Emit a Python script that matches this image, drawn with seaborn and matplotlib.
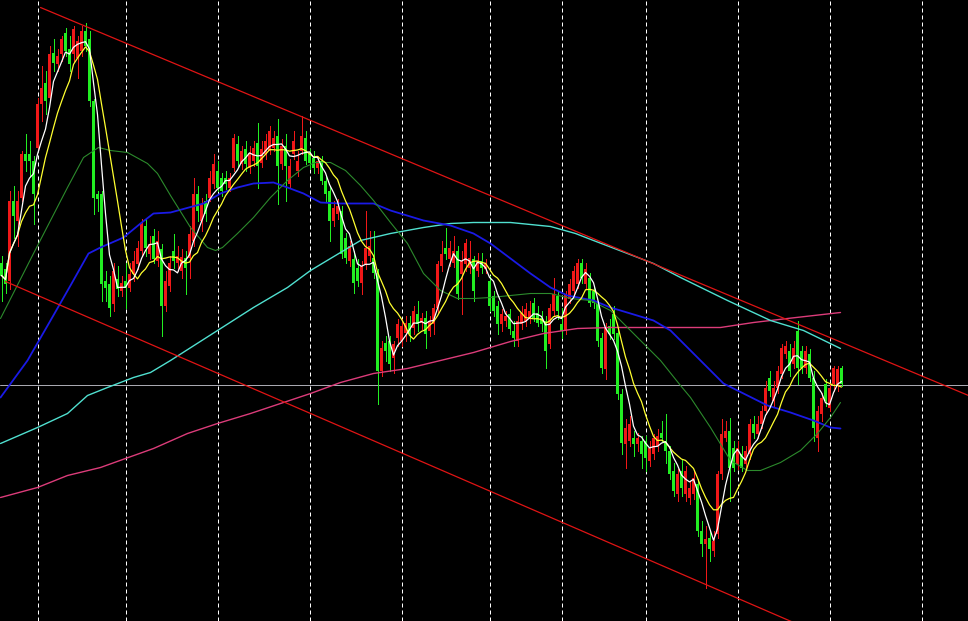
import numpy as np
import pandas as pd
import matplotlib
matplotlib.use("Agg")
import matplotlib.pyplot as plt
import seaborn as sns

# ---------------- data (prices in arbitrary chart units) ----------------
opens = [359, 353, 341, 421, 401, 424, 468, 468, 461, 474, 518, 539, 524, 569, 558, 568, 589, 573, 568, 564,
         571, 591, 583, 521, 428, 428, 341, 338, 318, 343, 331, 341, 334, 348, 358, 371, 396, 368, 386, 361,
         373, 316, 336, 371, 359, 351, 364, 364, 381, 428, 401, 421, 424, 438, 451, 444, 444, 434, 454, 478,
         458, 473, 454, 461, 479, 459, 468, 471, 474, 486, 458, 476, 438, 468, 451, 471, 484, 468, 464, 454,
         461, 441, 431, 401, 408, 411, 384, 361, 363, 354, 339, 358, 366, 364, 349, 251, 279, 281, 264, 284,
         281, 289, 299, 294, 308, 299, 304, 291, 298, 314, 356, 374, 363, 359, 371, 348, 358, 354, 363, 351,
         361, 353, 341, 326, 316, 298, 301, 308, 291, 281, 298, 301, 303, 319, 309, 304, 301, 278, 311, 326,
         298, 291, 323, 331, 338, 359, 338, 344, 331, 318, 284, 253, 296, 308, 289, 228, 178, 181, 184, 178,
         181, 181, 161, 168, 176, 189, 181, 171, 151, 128, 151, 128, 124, 128, 138, 91, 78, 84, 71, 88,
         148, 184, 191, 174, 158, 168, 158, 168, 198, 188, 198, 211, 244, 221, 234, 248, 268, 271, 258, 291,
         271, 254, 268, 244, 184, 208, 238, 214, 238, 236, 254]
closes = [346, 338, 421, 406, 421, 468, 461, 461, 428, 518, 534, 521, 568, 559, 566, 583, 571, 558, 593, 581,
          591, 576, 521, 424, 423, 338, 334, 314, 351, 333, 339, 334, 348, 361, 374, 398, 374, 378, 363, 381,
          316, 341, 359, 361, 366, 365, 354, 388, 428, 411, 418, 408, 444, 458, 434, 431, 438, 444, 484, 461,
          471, 458, 469, 474, 456, 473, 481, 491, 484, 456, 476, 456, 456, 481, 461, 486, 461, 459, 454, 461,
          441, 428, 401, 414, 416, 368, 364, 376, 339, 341, 356, 374, 376, 349, 251, 274, 271, 258, 278, 298,
          296, 299, 288, 311, 298, 304, 288, 301, 314, 358, 368, 368, 374, 371, 328, 361, 379, 364, 331, 361,
          354, 359, 316, 311, 298, 308, 306, 293, 284, 301, 309, 313, 311, 304, 299, 298, 271, 314, 328, 311,
          291, 328, 338, 351, 359, 344, 353, 319, 319, 281, 254, 294, 288, 288, 228, 179, 194, 198, 178, 184,
          168, 164, 174, 184, 186, 184, 171, 148, 131, 148, 134, 151, 134, 144, 91, 78, 83, 73, 81, 148,
          188, 191, 154, 154, 174, 154, 171, 198, 189, 198, 211, 234, 231, 234, 251, 274, 276, 251, 274, 254,
          254, 271, 244, 194, 211, 224, 221, 234, 254, 253, 238]
highs = [366, 359, 431, 436, 431, 471, 488, 481, 466, 524, 556, 551, 576, 583, 573, 586, 594, 586, 596, 586,
         596, 599, 591, 523, 431, 431, 351, 346, 359, 356, 346, 359, 359, 371, 381, 403, 403, 386, 393, 391,
         378, 351, 366, 388, 376, 373, 371, 396, 444, 436, 424, 428, 451, 468, 461, 449, 451, 449, 488, 486,
         476, 481, 476, 481, 499, 481, 488, 496, 491, 503, 483, 488, 463, 491, 471, 506, 491, 473, 471, 466,
         466, 446, 436, 421, 423, 416, 389, 381, 371, 363, 361, 411, 391, 391, 353, 281, 286, 286, 281, 303,
         303, 306, 306, 316, 321, 309, 311, 306, 318, 361, 381, 394, 381, 386, 376, 371, 383, 381, 366, 369,
         369, 363, 346, 331, 321, 313, 311, 313, 301, 306, 316, 319, 321, 324, 316, 311, 306, 318, 344, 331,
         314, 331, 343, 356, 363, 363, 359, 349, 336, 321, 289, 299, 303, 316, 294, 233, 203, 206, 191, 189,
         186, 186, 181, 188, 193, 201, 208, 176, 159, 153, 163, 156, 141, 151, 143, 101, 96, 91, 91, 151,
         203, 201, 204, 181, 181, 176, 176, 203, 206, 206, 216, 241, 251, 241, 256, 278, 281, 278, 281, 301,
         276, 276, 273, 251, 216, 229, 243, 238, 256, 256, 256]
lows = [321, 329, 333, 384, 376, 421, 451, 446, 398, 471, 501, 508, 521, 551, 551, 561, 566, 551, 561, 544,
        566, 571, 516, 408, 411, 321, 321, 306, 311, 326, 326, 314, 331, 341, 353, 366, 366, 363, 359, 356,
        286, 311, 331, 354, 351, 344, 328, 344, 376, 401, 391, 401, 421, 434, 431, 426, 433, 431, 451, 456,
        453, 451, 449, 456, 434, 455, 463, 468, 471, 418, 453, 421, 434, 463, 446, 468, 458, 453, 449, 449,
        438, 421, 381, 396, 403, 364, 359, 356, 329, 336, 328, 353, 361, 344, 218, 246, 261, 251, 249, 276,
        276, 281, 281, 288, 291, 293, 274, 286, 288, 309, 351, 363, 356, 355, 323, 308, 351, 349, 321, 346,
        349, 349, 311, 306, 288, 291, 296, 288, 276, 276, 293, 296, 299, 301, 296, 291, 254, 274, 306, 303,
        284, 288, 319, 328, 334, 339, 333, 316, 314, 276, 249, 243, 283, 283, 223, 168, 154, 176, 166, 171,
        154, 151, 156, 163, 171, 181, 159, 143, 126, 121, 126, 121, 118, 123, 86, 66, 34, 61, 66, 84,
        143, 181, 121, 151, 153, 151, 154, 163, 184, 184, 194, 208, 226, 216, 229, 244, 264, 246, 254, 238,
        249, 249, 241, 181, 171, 201, 216, 211, 231, 231, 236]

# moving averages (bar position, value)
ma_green_t = [-0.25, 8, 16.5, 20.5, 24.25, 27.25, 31.5, 36.5, 39, 42.25, 47.25, 51.5, 53.5, 55.25, 59, 63,
              67.25, 71.5, 75.5, 78.5, 82.25, 86, 89.75, 93, 97.25, 101.5, 105.5, 109.75, 114, 118, 122.25,
              127.25, 132.25, 137.25, 142.25, 147.25, 152.25, 156.5, 160.5, 164.75, 169.75, 172.25, 177.25,
              182.25, 186.5, 189.75, 194.75, 199.75, 204, 207.25, 209.75]
ma_green_v = [303, 368, 434, 464, 474, 471, 469, 458, 448, 426, 394, 374, 371, 374, 388, 404,
              424, 441, 454, 459, 459, 451, 436, 421, 399, 378, 348, 331, 323, 323, 324,
              326, 328, 328, 323, 321, 311, 294, 278, 261, 236, 224, 194,
              161, 151, 151, 159, 171, 188, 204, 219]
ma_blue_t = [-0.25, 6.5, 12.25, 17.25, 21.75, 24.75, 30.5, 34.75, 38, 42.25, 50.5, 54.75, 59, 63, 68, 71.5,
             75.5, 79.75, 84.75, 93, 97.25, 105.5, 112.25, 118, 122.25, 127.25, 132.25, 137.25, 141.5, 148,
             152.25, 157.25, 163, 167.25, 172.25, 177.25, 180.5, 185.5, 191.5, 197.25, 203, 207.25, 209.75]
ma_blue_v = [224, 261, 301, 336, 368, 374, 384, 398, 408, 409, 418, 428, 434, 438, 439, 434,
             428, 419, 418, 418, 411, 401, 396, 388, 378, 363, 348, 334, 326, 321,
             314, 308, 301, 291, 271, 251, 238, 228, 216, 209, 201, 194, 193]
ma_cyan_t = [-0.25, 9, 16.5, 21.5, 26.5, 33, 37.25, 42.25, 54, 63, 71.5, 77.25, 84.75, 89.75, 97.25, 105.5,
             112.25, 118, 127.25, 137.25, 143.5, 148, 156.5, 163, 169.75, 181.5, 192.25, 200.5, 209.75]
ma_cyan_v = [178, 194, 208, 226, 234, 244, 249, 261, 291, 314, 334, 351, 369, 381, 388, 394,
             398, 399, 399, 395, 388, 381, 368, 358, 344, 321, 301, 291, 273]
ma_pink_t = [-0.25, 9, 16.5, 24.75, 31, 38, 46.5, 54, 62.25, 70.5, 77.25, 84.75, 93, 101.5, 109.75, 118,
             127.25, 135.5, 144, 152.25, 169.75, 179.75, 188, 196.5, 209.75]
ma_pink_v = [124, 134, 146, 154, 163, 173, 188, 198, 208, 219, 228, 239, 248, 253, 261, 269,
             280, 288, 293, 294, 294, 294, 299, 303, 309]
fast_period = 5
slow_period = 10

# trend channel anchors (bar position, price)
upper_channel_t = [9.75, 241.75]
upper_channel_v = [614, 226]
lower_channel_t = [1, 199.75]
lower_channel_v = [340, -4]
bid_price = 237
grid_positions = [9, 31, 54, 77, 100, 122, 140, 161, 184, 207, 230]

# ---------------- drawing ----------------
sns.set_theme(style="dark", rc={"axes.facecolor": "black", "figure.facecolor": "black",
                                "axes.grid": False})

W, H = 968, 621
fig = plt.figure(figsize=(W / 100, H / 100), dpi=100)
ax = fig.add_axes([0, 0, 1, 1])
ax.set_facecolor("black")

df = pd.DataFrame({"open": opens, "high": highs, "low": lows, "close": closes})
df["t"] = np.arange(len(df))
up = df["close"] >= df["open"]
UP_COL = "#f01818"
DN_COL = "#22ee22"
cols = np.where(up, UP_COL, DN_COL)

px = 0.72  # one pixel in points

# vertical dashed grid
for g in grid_positions:
    ax.axvline(g, color="white", lw=px, dashes=(4, 3), zorder=1)

# bid line
ax.axhline(bid_price, color="#a8a8b0", lw=px, zorder=2)

# candles
ax.vlines(df["t"], df["low"], df["high"], colors=cols, lw=px, antialiased=False, zorder=3)
body_lo = np.minimum(df["open"], df["close"])
body_h = np.maximum(np.abs(df["close"] - df["open"]), 1)
ax.bar(df["t"], body_h, bottom=body_lo, width=0.8, color=cols, linewidth=0,
       antialiased=True, zorder=4)

# moving averages
df["ma_fast"] = df["close"].rolling(fast_period, min_periods=1).mean()
df["ma_slow"] = df["close"].rolling(slow_period, min_periods=1).mean()

sns.lineplot(x=ma_pink_t, y=ma_pink_v, ax=ax, color="#dc3c7a", lw=1.0, estimator=None, sort=False, zorder=5)
sns.lineplot(x=ma_cyan_t, y=ma_cyan_v, ax=ax, color="#50e0d0", lw=1.0, estimator=None, sort=False, zorder=5)
sns.lineplot(x=ma_blue_t, y=ma_blue_v, ax=ax, color="#1a1ae6", lw=1.3, estimator=None, sort=False, zorder=5)
sns.lineplot(x=ma_green_t, y=ma_green_v, ax=ax, color="#2c8a2c", lw=0.8, estimator=None, sort=False, zorder=5)
sns.lineplot(data=df, x="t", y="ma_slow", ax=ax, color="#ffff30", lw=0.9, estimator=None, zorder=6)
sns.lineplot(data=df, x="t", y="ma_fast", ax=ax, color="white", lw=0.9, estimator=None, zorder=7)

# channel lines
ax.plot(upper_channel_t, upper_channel_v, color="#e01414", lw=0.9, zorder=8)
ax.plot(lower_channel_t, lower_channel_v, color="#e01414", lw=0.9, zorder=8)

ax.set_xlim(-0.375, (W - 1.5) / 4)
ax.set_ylim(0.5, H + 0.5)
ax.set_axis_off()
if ax.get_legend() is not None:
    ax.get_legend().remove()

fig.savefig("out.png", dpi=100, facecolor="black")
